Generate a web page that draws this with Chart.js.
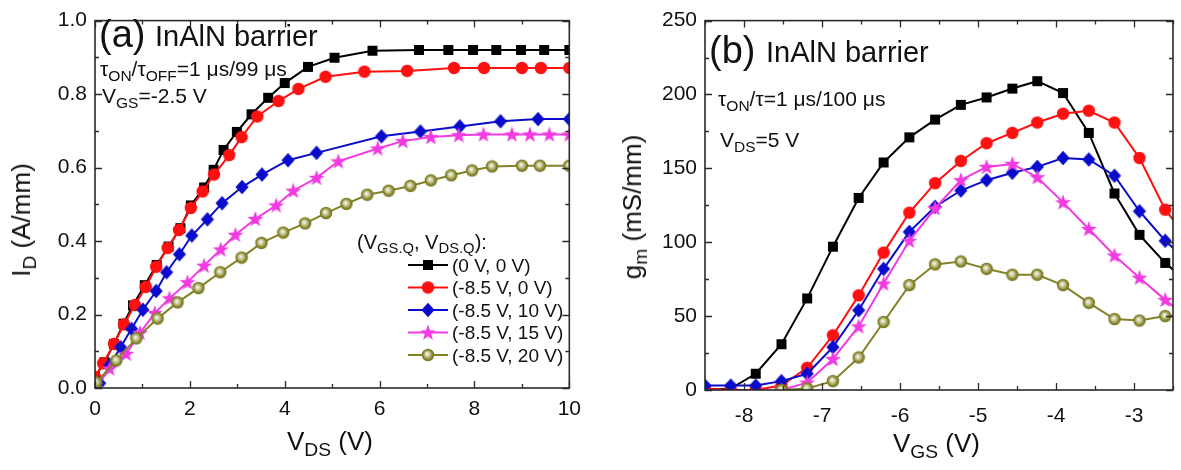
<!DOCTYPE html>
<html>
<head>
<meta charset="utf-8">
<script src="https://cdn.jsdelivr.net/npm/chart.js@4.4.1/dist/chart.umd.min.js"></script>
<style>
  html, body { margin: 0; padding: 0; background: #fff; }
  #wrap { position: relative; width: 1181px; height: 470px; overflow: hidden;
          font-family: 'Liberation Sans', Arial, sans-serif; color: #111; }
  canvas { position: absolute; top: 0; }
  #chartA { left: 0; }
  #chartB { left: 600px; }
  .t { position: absolute; white-space: nowrap; line-height: 1; }
  .s { font-size: 0.74em; position: relative; top: 0.3em; }
  .rot { transform-origin: 0 0; transform: rotate(-90deg) translate(-50%, 0); }
</style>
</head>
<body>
<div id="wrap">
  <canvas id="chartA" width="590" height="470"></canvas>
  <canvas id="chartB" width="581" height="470"></canvas>

  <!-- panel (a) -->
  <div class="t" style="left:99px;top:15px;font-size:38px;">(a)</div>
  <div class="t" style="left:155px;top:22px;font-size:29px;">InAlN barrier</div>
  <div class="t" style="left:100px;top:58px;font-size:21px;">τ<span class="s">ON</span>/τ<span class="s">OFF</span>=1 μs/99 μs</div>
  <div class="t" style="left:102px;top:85px;font-size:21px;">V<span class="s">GS</span>=-2.5 V</div>
  <div class="t" style="left:357px;top:232px;font-size:20px;">(V<span class="s">GS.Q</span>, V<span class="s">DS.Q</span>):</div>
  <div class="t" style="left:452px;top:256px;font-size:19px;">(0 V, 0 V)</div>
  <div class="t" style="left:452px;top:278px;font-size:19px;">(-8.5 V, 0 V)</div>
  <div class="t" style="left:452px;top:301px;font-size:19px;">(-8.5 V, 10 V)</div>
  <div class="t" style="left:452px;top:323px;font-size:19px;">(-8.5 V, 15 V)</div>
  <div class="t" style="left:452px;top:346px;font-size:19px;">(-8.5 V, 20 V)</div>
  <div class="t" style="left:287px;top:428px;font-size:26px;">V<span class="s">DS</span> (V)</div>
  <div class="t rot" style="left:8px;top:220px;font-size:26px;">I<span class="s">D</span> (A/mm)</div>

  <!-- panel (b) -->
  <div class="t" style="left:709px;top:31px;font-size:38px;">(b)</div>
  <div class="t" style="left:766px;top:38px;font-size:29px;">InAlN barrier</div>
  <div class="t" style="left:718px;top:88px;font-size:21px;">τ<span class="s">ON</span>/τ=1 μs/100 μs</div>
  <div class="t" style="left:720px;top:129px;font-size:21px;">V<span class="s">DS</span>=5 V</div>
  <div class="t" style="left:893px;top:430px;font-size:26px;">V<span class="s">GS</span> (V)</div>
  <div class="t rot" style="left:619px;top:207px;font-size:26px;">g<span class="s">m</span> (mS/mm)</div>
</div>

<script>
'use strict';

// ---- (a) output characteristics, I_D vs V_DS ----------------
const vdsBlack = [0, 0.2, 0.4, 0.6, 0.8, 1.05, 1.3, 1.55, 1.8, 2.02, 2.3, 2.5, 2.71, 2.99, 3.3, 3.65, 4.0, 4.49, 5.05, 5.85, 6.83, 7.45, 7.97, 8.46, 8.98, 9.47, 10];
const idBlack  = [0.03, 0.07, 0.12, 0.175, 0.225, 0.28, 0.335, 0.385, 0.435, 0.497, 0.546, 0.594, 0.648, 0.697, 0.745, 0.79, 0.83, 0.874, 0.899, 0.918, 0.92, 0.92, 0.92, 0.92, 0.92, 0.92, 0.92];

const vdsRed = [0, 0.17, 0.4, 0.61, 0.84, 1.07, 1.29, 1.53, 1.77, 2.02, 2.27, 2.51, 2.83, 3.09, 3.42, 3.87, 4.29, 4.86, 5.68, 6.58, 7.57, 8.2, 9.0, 9.4, 10];
const idRed  = [0.03, 0.067, 0.12, 0.173, 0.226, 0.275, 0.33, 0.381, 0.43, 0.49, 0.535, 0.581, 0.634, 0.683, 0.739, 0.781, 0.814, 0.847, 0.861, 0.863, 0.871, 0.871, 0.871, 0.871, 0.871];

const vdsBlue = [0, 0.1, 0.31, 0.54, 0.77, 1.01, 1.29, 1.51, 1.78, 2.04, 2.37, 2.68, 3.1, 3.52, 4.07, 4.67, 6.04, 6.86, 7.69, 8.55, 9.34, 10];
const idBlue  = [0.005, 0.013, 0.062, 0.111, 0.161, 0.213, 0.264, 0.315, 0.364, 0.415, 0.459, 0.503, 0.547, 0.581, 0.62, 0.64, 0.685, 0.698, 0.712, 0.726, 0.732, 0.732];

const vdsMagenta = [0, 0.31, 0.66, 0.95, 1.26, 1.57, 1.95, 2.3, 2.65, 2.96, 3.38, 3.82, 4.18, 4.67, 5.13, 5.96, 6.49, 7.08, 7.67, 8.19, 8.79, 9.17, 9.58, 10];
const idMagenta  = [0.0, 0.053, 0.093, 0.15, 0.204, 0.244, 0.288, 0.333, 0.377, 0.417, 0.46, 0.497, 0.537, 0.572, 0.617, 0.652, 0.672, 0.683, 0.688, 0.69, 0.69, 0.69, 0.69, 0.69];

const vdsOlive = [0.03, 0.45, 0.87, 1.32, 1.74, 2.18, 2.64, 3.09, 3.51, 3.97, 4.43, 4.87, 5.3, 5.74, 6.19, 6.65, 7.08, 7.51, 7.95, 8.37, 9.0, 9.38, 10];
const idOlive  = [0.015, 0.075, 0.135, 0.189, 0.233, 0.272, 0.315, 0.355, 0.395, 0.423, 0.448, 0.476, 0.501, 0.526, 0.537, 0.55, 0.565, 0.579, 0.592, 0.603, 0.605, 0.605, 0.605];

const xTicksA = [0, 2, 4, 6, 8, 10];
const yTicksA = [0, 0.2, 0.4, 0.6, 0.8, 1.0];

// ---- (b) transconductance, g_m vs V_GS ----------------------
const vgs = [-8.5, -8.17, -7.85, -7.52, -7.19, -6.86, -6.53, -6.21, -5.88, -5.55, -5.22, -4.89, -4.56, -4.24, -3.91, -3.58, -3.25, -2.93, -2.6, -2.27];
const gmBlack   = [0, 1, 11, 31, 62, 97, 130, 154, 171, 183, 193, 198, 204, 209, 201, 174, 133, 105, 86, 71];
const gmRed     = [1, 0, 0, 3, 15, 37, 64, 93, 120, 140, 155, 167, 174, 181, 187, 189, 181, 157, 122, 100];
const gmBlue    = [3, 3, 3, 6, 11, 29, 54, 82, 107, 124, 135, 142, 147, 151, 157, 156, 145, 121, 101, 85];
const gmMagenta = [null, null, null, 0, 5, 21, 43, 72, 101, 123, 142, 151, 153, 144, 127, 109, 91, 76, 61, 47];
const gmOlive   = [null, null, null, 0, 1, 6, 22, 46, 71, 85, 87, 82, 78, 78, 71, 59, 48, 47, 50, 51];

const xTicksB = [-8, -7, -6, -5, -4, -3];
const yTicksB = [0, 50, 100, 150, 200, 250];

const seriesLabels = ['(0 V, 0 V)', '(-8.5 V, 0 V)', '(-8.5 V, 10 V)', '(-8.5 V, 15 V)', '(-8.5 V, 20 V)'];
const COLORS = ['#000000', '#ff1010', '#0a0ccc', '#f23ae0', '#838326'];

const FONT = "'Liberation Sans', Arial, sans-serif";

// ---- marker images ------------------------------------------
function markerCanvas(size, draw) {
    const c = document.createElement('canvas');
    c.width = c.height = size;
    draw(c.getContext('2d'), size / 2);
    return c;
}

const MARKERS = [
    markerCanvas(12, (g, m) => { g.fillStyle = COLORS[0]; g.fillRect(m - 5, m - 5, 10, 10); }),
    markerCanvas(14, (g, m) => { g.fillStyle = COLORS[1]; g.beginPath(); g.arc(m, m, 6.2, 0, Math.PI * 2); g.fill(); }),
    markerCanvas(16, (g, m) => {
        g.fillStyle = COLORS[2];
        g.beginPath();
        g.moveTo(m, m - 7.2); g.lineTo(m + 6.6, m); g.lineTo(m, m + 7.2); g.lineTo(m - 6.6, m);
        g.closePath(); g.fill();
    }),
    markerCanvas(18, (g, m) => {
        g.fillStyle = COLORS[3];
        g.beginPath();
        for (let i = 0; i < 10; i++) {
            const r = i % 2 ? 3.4 : 8.4;
            const a = -Math.PI / 2 + i * Math.PI / 5;
            g.lineTo(m + r * Math.cos(a), m + 0.5 + r * Math.sin(a));
        }
        g.closePath(); g.fill();
    }),
    markerCanvas(14, (g, m) => {
        const grad = g.createRadialGradient(m - 1, m - 1.2, 0.5, m, m, 6.2);
        grad.addColorStop(0, '#f4f4e6');
        grad.addColorStop(0.35, '#c9c99c');
        grad.addColorStop(0.7, '#8d8d33');
        grad.addColorStop(1, '#6c6c1c');
        g.fillStyle = grad;
        g.beginPath(); g.arc(m, m, 6.2, 0, Math.PI * 2); g.fill();
    }),
];

function pts(xs, ys) {
    return xs.map((x, i) => ({ x, y: ys[i] }));
}

function makeDataset(i, data) {
    return {
        label: seriesLabels[i],
        data,
        borderColor: COLORS[i],
        backgroundColor: COLORS[i],
        borderWidth: 2,
        pointStyle: MARKERS[i],
        pointRadius: 6,
        tension: 0,
        order: 5 - i,
    };
}

// ---- frame with inward ticks on all four sides --------------
const frameTicks = {
    id: 'frameTicks',
    afterDraw(chart, args, o) {
        const { ctx, chartArea: a } = chart;
        const x = chart.scales.x, y = chart.scales.y;
        const isMajor = (list, v) => list.some(t => Math.abs(t - v) < 1e-6);
        ctx.save();
        ctx.strokeStyle = '#2a2a2a';
        ctx.lineWidth = 1.3;
        ctx.beginPath();
        for (let v = x.min; v <= x.max + 1e-9; v += o.xMinor) {
            const px = Math.round(x.getPixelForValue(v)) + 0.5;
            const len = isMajor(o.xMajor, v) ? 7 : 4;
            ctx.moveTo(px, a.bottom); ctx.lineTo(px, a.bottom - len);
            ctx.moveTo(px, a.top); ctx.lineTo(px, a.top + len);
        }
        for (let v = y.min; v <= y.max + 1e-9; v += o.yMinor) {
            const py = Math.round(y.getPixelForValue(v)) + 0.5;
            const len = isMajor(o.yMajor, v) ? 7 : 4;
            ctx.moveTo(a.left, py); ctx.lineTo(a.left + len, py);
            ctx.moveTo(a.right, py); ctx.lineTo(a.right - len, py);
        }
        ctx.stroke();
        ctx.lineWidth = 1.6;
        ctx.strokeRect(a.left, a.top, a.right - a.left, a.bottom - a.top);
        ctx.restore();
    },
};

// ---- legend samples (line + marker) for panel (a) -----------
const legendSamples = {
    id: 'legendSamples',
    afterDraw(chart, args, o) {
        if (!o.rows) return;
        const ctx = chart.ctx;
        ctx.save();
        chart.data.datasets.forEach((ds, i) => {
            const yy = o.rows[i];
            ctx.strokeStyle = ds.borderColor;
            ctx.lineWidth = 2;
            ctx.beginPath();
            ctx.moveTo(o.x0, yy); ctx.lineTo(o.x1, yy);
            ctx.stroke();
            const img = ds.pointStyle;
            ctx.drawImage(img, (o.x0 + o.x1) / 2 - img.width / 2, yy - img.height / 2);
        });
        ctx.restore();
    },
};

function panelOptions(cfg) {
    return {
        responsive: false,
        animation: false,
        events: [],
        layout: { padding: cfg.pad },
        plugins: {
            legend: { display: false },
            tooltip: { enabled: false },
            frameTicks: cfg.frame,
            legendSamples: cfg.legend || {},
        },
        scales: {
            x: {
                type: 'linear',
                min: cfg.xMin, max: cfg.xMax,
                grid: { display: false, drawTicks: false },
                border: { display: false },
                afterBuildTicks: s => { s.ticks = cfg.xTicks.map(v => ({ value: v })); },
                afterFit: s => { s.height = cfg.xHeight; },
                ticks: {
                    padding: cfg.xPad,
                    maxRotation: 0,
                    autoSkip: false,
                    color: '#111',
                    font: { family: FONT, size: 21 },
                    callback: v => String(v),
                },
            },
            y: {
                type: 'linear',
                min: cfg.yMin, max: cfg.yMax,
                grid: { display: false, drawTicks: false },
                border: { display: false },
                afterBuildTicks: s => { s.ticks = cfg.yTicks.map(v => ({ value: v })); },
                afterFit: s => { s.width = cfg.yWidth; },
                ticks: {
                    padding: 8,
                    autoSkip: false,
                    color: '#111',
                    font: { family: FONT, size: 21 },
                    callback: cfg.yFmt,
                },
            },
        },
    };
}

new Chart(document.getElementById('chartA'), {
    type: 'line',
    data: {
        datasets: [
            makeDataset(0, pts(vdsBlack, idBlack)),
            makeDataset(1, pts(vdsRed, idRed)),
            makeDataset(2, pts(vdsBlue, idBlue)),
            makeDataset(3, pts(vdsMagenta, idMagenta)),
            makeDataset(4, pts(vdsOlive, idOlive)),
        ],
    },
    options: panelOptions({
        pad: { left: 0, top: 13, right: 17, bottom: 0 },
        xMin: 0, xMax: 10, yMin: 0, yMax: 1.0,
        xTicks: xTicksA, yTicks: yTicksA,
        yFmt: v => v.toFixed(1),
        yWidth: 95, xHeight: 82, xPad: 9,
        frame: { xMinor: 1, xMajor: xTicksA, yMinor: 0.1, yMajor: yTicksA },
        legend: { x0: 408, x1: 448, rows: [265, 287.5, 310, 332.5, 355] },
    }),
    plugins: [frameTicks, legendSamples],
});

new Chart(document.getElementById('chartB'), {
    type: 'line',
    data: {
        datasets: [
            makeDataset(0, pts(vgs, gmBlack)),
            makeDataset(1, pts(vgs, gmRed)),
            makeDataset(2, pts(vgs, gmBlue)),
            makeDataset(3, pts(vgs, gmMagenta)),
            makeDataset(4, pts(vgs, gmOlive)),
        ],
    },
    options: panelOptions({
        pad: { left: 0, top: 20, right: 4, bottom: 0 },
        xMin: -8.5, xMax: -2.5, yMin: 0, yMax: 250,
        xTicks: xTicksB, yTicks: yTicksB,
        yFmt: v => String(v),
        yWidth: 105, xHeight: 80, xPad: 14,
        frame: { xMinor: 0.5, xMajor: xTicksB, yMinor: 25, yMajor: yTicksB },
    }),
    plugins: [frameTicks, legendSamples],
});
</script>
</body>
</html>
